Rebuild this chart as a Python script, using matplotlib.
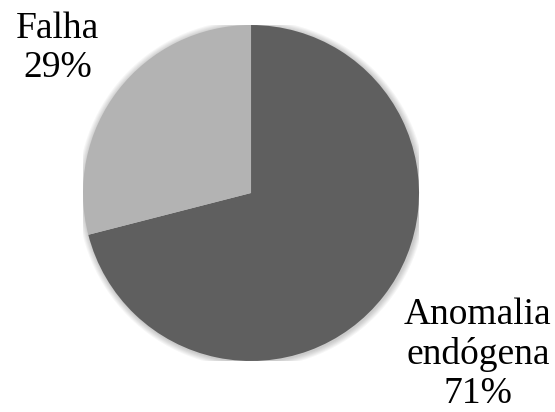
import matplotlib.pyplot as plt
from matplotlib.patches import Circle

# slice data
labels = ["Anomalia\nendógena", "Falha"]
values = [71, 29]
colors = ["#5f5f5f", "#b3b3b3"]

plt.rcParams['font.family'] = ['Liberation Serif', 'DejaVu Serif']

fig = plt.figure(figsize=(5.55, 4.12), dpi=100)
ax = fig.add_axes([0.1496, 0.1238, 0.6054, 0.8155])

# soft shadow round the pie
for k in range(6):
    ax.add_patch(Circle((0.005, -0.005), 1.0 + 0.006 * (k + 1), color="#000000",
                        alpha=0.035, lw=0, zorder=0))

ax.pie(values, colors=colors, startangle=90, counterclock=False,
       wedgeprops=dict(linewidth=0), radius=1.0)

# label positions in pie radius units
label_pos = [(1.35, -0.96), (-1.15, 0.86)]
for lab, val, (x, y) in zip(labels, values, label_pos):
    ax.text(x, y, f"{lab}\n{val}%", ha="center", va="center",
            multialignment="center", fontsize=27, linespacing=1.17,
            color="#000000", clip_on=False)

ax.set_xlim(-1, 1)
ax.set_ylim(-1, 1)
ax.set_aspect("equal")
ax.axis("off")

fig.savefig("out.png", dpi=100)
